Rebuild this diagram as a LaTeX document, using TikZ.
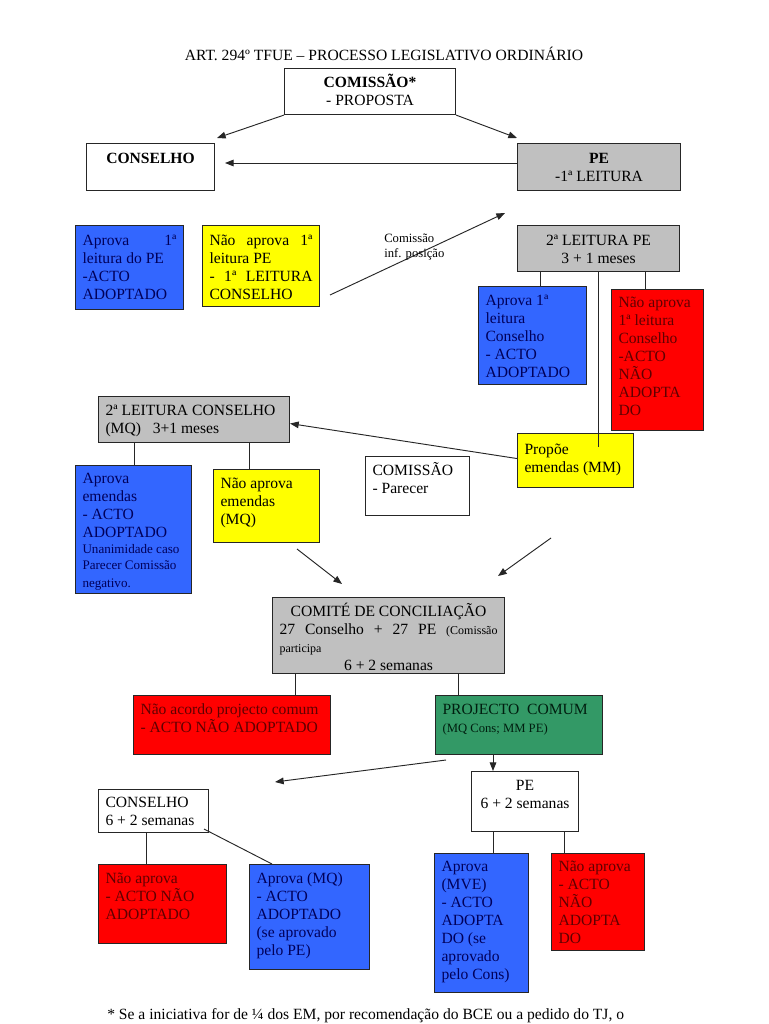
\documentclass[tikz,border=0pt]{standalone}
\usepackage{fontspec}
\setmainfont{Liberation Serif}
\usetikzlibrary{arrows.meta,calc}
\newdimen\pxu \pxu=0.75pt
\definecolor{bfill}{RGB}{51,102,255}
\definecolor{btext}{RGB}{0,0,90}
\definecolor{rfill}{RGB}{255,0,0}
\definecolor{rtext}{RGB}{95,0,0}
\definecolor{yfill}{RGB}{255,255,0}
\definecolor{gfill}{RGB}{192,192,192}
\definecolor{grfill}{RGB}{51,153,102}
\definecolor{grtext}{RGB}{0,30,15}
\newcommand\pb[4][10.25pt]{\parbox[c][\dimexpr#3\pxu-8pt\relax][t]{\dimexpr#2\pxu-10.5pt\relax}{\raggedright\rule{0pt}{#1}#4}}
\tikzset{
  box/.style={draw=black!85, line width=0.8pt, fill=white, inner xsep=5.25pt, inner ysep=4pt, anchor=north west, font=\fontsize{11.7}{13.5}\selectfont},
  bluebox/.style={box, fill=bfill, text=btext},
  redbox/.style={box, fill=rfill, text=rtext},
  yelbox/.style={box, fill=yfill},
  graybox/.style={box, fill=gfill},
  grnbox/.style={box, fill=grfill, text=grtext},
  ln/.style={draw=black!85, line width=0.7pt},
  arr/.style={ln, -{Triangle[length=6.5pt,width=5pt]}},
}
\begin{document}
\begin{tikzpicture}[x=0.75pt, y=-0.75pt]
\fill[white] (0,0) rectangle (768,1024);
\useasboundingbox (0,0) rectangle (768,1024);

\node[font=\fontsize{11.7}{13.5}\selectfont] (title) at (384,54) {ART. 294º TFUE – PROCESSO LEGISLATIVO ORDINÁRIO};

\node[box] (comm) at (284,68) {\pb[9.5pt]{171}{46}{\centering\textbf{COMISSÃO*}\\- PROPOSTA}};
\node[box] (cons) at (86,143) {\pb[11pt]{128}{47}{\centering\textbf{CONSELHO}}};
\node[graybox] (pe1) at (517,143) {\pb[11pt]{163}{47}{\centering\textbf{PE}\\-1ª LEITURA}};

\node[bluebox] (b1) at (75,225) {\pb[11pt]{108}{84}{Aprova\hfill 1ª\\leitura do PE\\-ACTO\\ADOPTADO}};
\node[yelbox] (y1) at (202,225) {\pb[11pt]{117}{81}{Não\hfill aprova\hfill 1ª\\leitura PE\\-\hfill 1ª\hfill LEITURA\\CONSELHO}};
\node[graybox] (pe2) at (517,225) {\pb[11pt]{162}{46}{\centering 2ª LEITURA PE\\3 + 1 meses}};
\node[bluebox] (b2) at (478,286) {\pb[10.25pt]{108}{98}{Aprova 1ª\\leitura\\Conselho\\- ACTO\\ADOPTADO}};
\node[redbox] (r1) at (611,289) {\pb[9.5pt]{92}{141}{Não aprova\\1ª leitura\\Conselho\\-ACTO\\NÃO\\ADOPTA\\DO}};
\node[yelbox] (prop) at (517,433) {\pb[11.75pt]{116}{54}{Propõe\\emendas (MM)}};

\node[graybox] (lc2) at (98,396) {\pb[10.25pt]{191}{46}{2ª LEITURA CONSELHO\\(MQ)\ \ \ 3+1 meses}};
\node[bluebox] (b3) at (75,465) {\pb[9.5pt]{116}{128}{Aprova\\emendas\\- ACTO\\ADOPTADO\\{\fontsize{9.8}{11.8}\selectfont Unanimidade caso\\Parecer Comissão\\negativo.}}};
\node[yelbox] (y2) at (213,469) {\pb[10.25pt]{106}{73}{Não aprova\\emendas\\(MQ)}};
\node[box] (cp) at (365,456) {\pb[10.25pt]{104}{59}{COMISSÃO\\- Parecer}};

\node[graybox] (com) at (272,597) {\pb[9.5pt]{232}{76}{\hfill COMITÉ DE CONCILIAÇÃO\hfill\null\\27\hfill Conselho\hfill +\hfill 27\hfill PE\hfill {\fontsize{9}{10}\selectfont(Comissão}\\{\fontsize{9}{12.75}\selectfont participa}\\\hfill 6 + 2 semanas\hfill\null}};
\node[redbox] (r2) at (133,695) {\pb{197}{59}{Não acordo projecto comum\\- ACTO NÃO ADOPTADO}};
\node[grnbox] (g) at (435,695) {\pb{167}{59}{PROJECTO\ \ COMUM\\{\fontsize{9.5}{13}\selectfont (MQ Cons; MM PE)}}};

\node[box] (pe3) at (471,771) {\pb{107}{60}{\centering PE\\6 + 2 semanas}};
\node[box] (c3) at (98,789) {\pb[9.5pt]{110}{43}{CONSELHO\\6 + 2 semanas}};
\node[redbox] (r3) at (98,864) {\pb{128}{79}{Não aprova\\- ACTO NÃO\\ADOPTADO}};
\node[bluebox] (b4) at (249,864) {\pb{120}{105}{Aprova (MQ)\\- ACTO\\ADOPTADO\\(se aprovado\\pelo PE)}};
\node[bluebox] (b5) at (434,853) {\pb[9.5pt]{94}{139}{Aprova\\(MVE)\\- ACTO\\ADOPTA\\DO (se\\aprovado\\pelo Cons)}};
\node[redbox] (r4) at (551,853) {\pb[9.5pt]{93}{97}{Não aprova\\- ACTO\\NÃO\\ADOPTA\\DO}};

% connectors
\coordinate (a1) at (217,138);
\draw[arr] (comm.south west) -- (a1);
\coordinate (a2) at (517,138);
\draw[arr] (comm.south east) -- (a2);
\coordinate (a3) at (225,163);
\draw[arr] (pe1.west |- a3) -- (a3);

\coordinate (c0) at (330,295);
\coordinate (c1) at (505,213);
\draw[arr] (c0) -- (c1);
\node[anchor=north west, align=left, inner sep=0pt, font=\fontsize{9.5}{11.25}\selectfont] (lbl) at (384,234) {Comissão\\inf. posição};

\coordinate (l1) at ($(pe2.south west)+(23,0)$);
\draw[ln] (l1) -- (l1 |- b2.north);
\coordinate (l2) at ($(pe2.south west)+(81,0)$);
\coordinate (l2e) at (l2 |- prop.north);
\draw[ln] (l2) -- ($(l2e)+(0,14)$);
\coordinate (l3) at ($(pe2.south west)+(128,0)$);
\draw[ln] (l3) -- (l3 |- r1.north);

\coordinate (a4) at ($(lc2.east)+(0,4)$);
\draw[arr] ($(prop.west)+(0,-2)$) -- (a4);

\coordinate (l4) at ($(lc2.south west)+(36,0)$);
\draw[ln] (l4) -- (l4 |- b3.north);
\coordinate (l5) at ($(lc2.south west)+(151,0)$);
\draw[ln] (l5) -- (l5 |- y2.north);

\coordinate (a5s) at (297,549);
\coordinate (a5) at (342,584);
\draw[arr] (a5s) -- (a5);
\coordinate (a6s) at (551,538);
\coordinate (a6) at (498,576);
\draw[arr] (a6s) -- (a6);

\coordinate (l6) at ($(com.south west)+(23,0)$);
\draw[ln] (l6) -- (l6 |- r2.north);
\coordinate (l7) at ($(com.south west)+(186,0)$);
\draw[ln] (l7) -- (l7 |- g.north);

\coordinate (l8) at ($(g.south west)+(58,0)$);
\draw[arr] (l8) -- (l8 |- pe3.north);
\coordinate (a7s) at (446,760);
\coordinate (a7) at (275,782);
\draw[arr] (a7s) -- (a7);

\coordinate (l9) at ($(pe3.south west)+(22,0)$);
\draw[ln] (l9) -- (l9 |- b5.north);
\coordinate (l10) at ($(pe3.south west)+(93,0)$);
\draw[ln] (l10) -- (l10 |- r4.north);

\coordinate (l11) at ($(c3.south west)+(48,0)$);
\draw[ln] (l11) -- (l11 |- r3.north);
\coordinate (d0) at ($(c3.south east)+(-5,-4)$);
\coordinate (d1) at ($(b4.north west)+(23,0)$);
\draw[ln] (d0) -- (d1);

\node[anchor=base west, inner sep=0pt, font=\fontsize{11.7}{13.5}\selectfont] (fn) at (107,1019) {* Se a iniciativa for de ¼ dos EM, por recomendação do BCE ou a pedido do TJ, o};
\end{tikzpicture}
\end{document}
